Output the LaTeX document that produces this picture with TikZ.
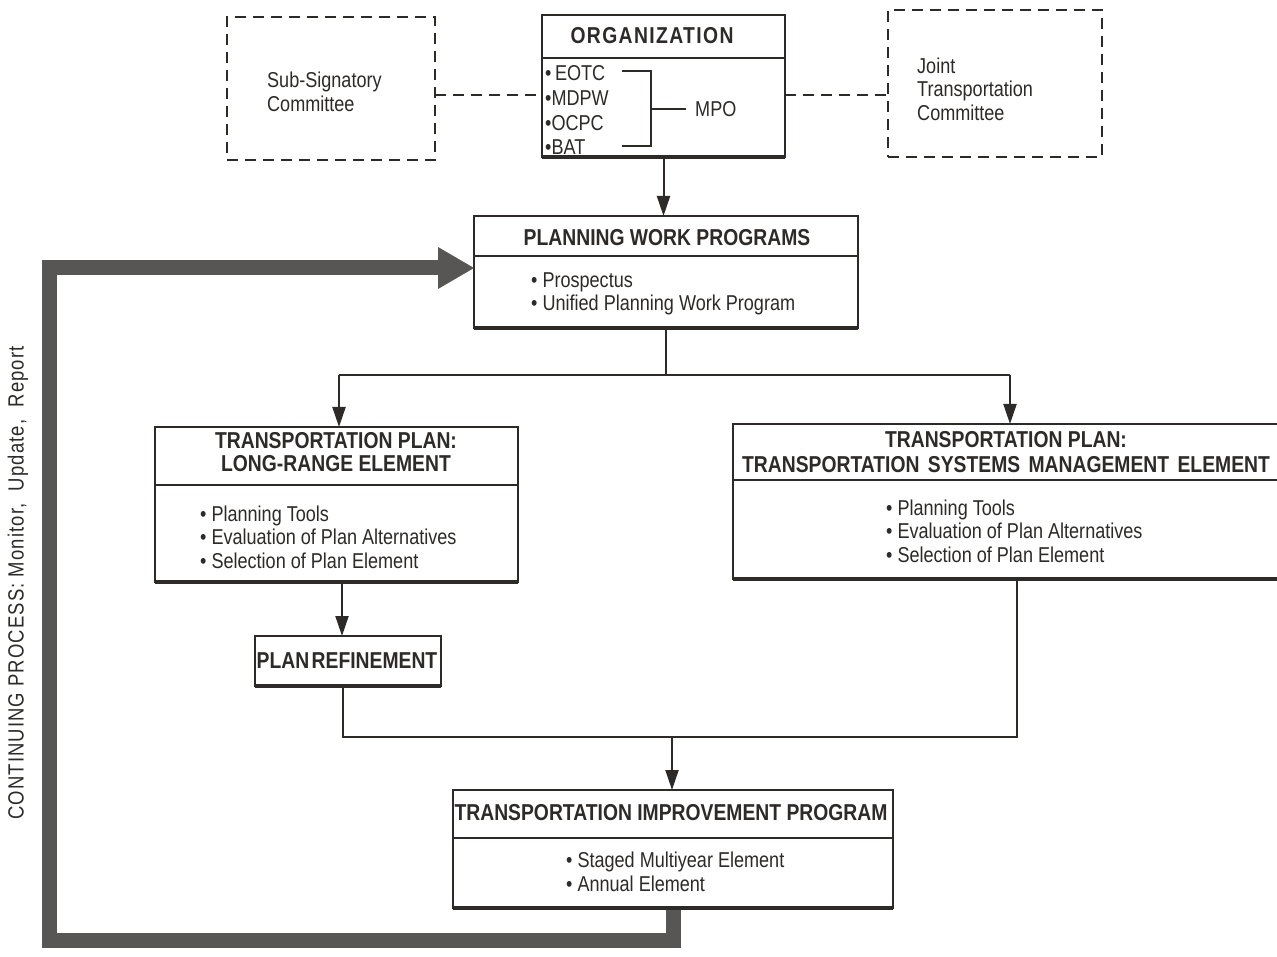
\documentclass[tikz,border=0pt]{standalone}
\usepackage{fontspec}
\setmainfont{Liberation Sans}[FakeStretch=0.84]
\usetikzlibrary{arrows.meta,calc}
\definecolor{ink}{RGB}{45,42,40}
\definecolor{fb}{RGB}{88,86,84}
\begin{document}
\begin{tikzpicture}[x=1pt,y=-1pt,
 box/.style={draw=ink,line width=2pt,fill=white,inner sep=0,outer sep=0,rectangle},
 dbox/.style={draw=ink,line width=2.2pt,dash pattern=on 11pt off 7pt,inner sep=0,outer sep=0,rectangle},
 ttl/.style={font=\bfseries\fontsize{23}{23.5}\selectfont,text=ink,align=center,inner sep=0},
 itm/.style={font=\fontsize{21.5}{23.5}\selectfont,text=ink,align=left,inner sep=0,anchor=west},
 conn/.style={draw=ink,line width=2pt},
 dconn/.style={draw=ink,line width=2pt,dash pattern=on 11pt off 7pt},
 arr/.style={conn,-{Triangle[length=20pt,width=13pt]}},
 feed/.style={draw=fb,line width=15pt,line join=miter},
 bot/.style={draw=ink,line width=3.2pt},
]
\useasboundingbox (0,0) rectangle (1277,957);
\clip (0,0) rectangle (1277,957);
\fill[white] (0,0) rectangle (1277,957);

% ---- top row
\node[dbox,minimum width=208,minimum height=143] (sub) at (331,88.5) {};
\node[itm] (subt) at (267,92) {Sub-Signatory\\Committee};

\node[box,minimum width=243,minimum height=142] (org) at (663.5,86) {};
\draw[bot] (org.south west) -- (org.south east);
\draw[conn] (org.west |- 0,58) -- (org.east |- 0,58);
\node[ttl] (orgt) at (652,36) {\addfontfeature{LetterSpace=6}ORGANIZATION};
\node[itm] (o1) at (545,73) {\textbullet\,EOTC};
\node[itm] (o2) at (545,98) {\textbullet MDPW};
\node[itm] (o3) at (545,123) {\textbullet OCPC};
\node[itm] (o4) at (545,147) {\textbullet BAT};
\coordinate (b1) at (622,71);
\coordinate (b2) at (651,71);
\coordinate (b3) at (651,146);
\coordinate (b4) at (622,146);
\coordinate (b5) at (651,109);
\node[itm] (mpo) at (695,109) {MPO};
\draw[conn] (b1) -- (b2) -- (b3) -- (b4);
\draw[conn] (b5) -- (686,109);

\node[dbox,minimum width=214,minimum height=147] (joint) at (995,83.5) {};
\node[itm] (jointt) at (917,89) {Joint\\Transportation\\Committee};

\draw[dconn] (sub.east |- 0,95) -- (org.west |- 0,95);
\draw[dconn] (org.east |- 0,95) -- (joint.west |- 0,95);

% ---- planning work programs
\node[box,minimum width=384,minimum height=112] (pwp) at (666,272) {};
\draw[bot] (pwp.south west) -- (pwp.south east);
\draw[conn] (pwp.west |- 0,256) -- (pwp.east |- 0,256);
\node[ttl] (pwpt) at (667,238) {PLANNING WORK PROGRAMS};
\node[itm] (pwpi) at (531,294) {\textbullet\ Prospectus\\\textbullet\ Unified Planning Work Program};

\draw[arr] (org.south) -- (org.south |- pwp.north);

% ---- branch
\coordinate (bl) at (339,375);
\coordinate (brr) at (1010,375);
\draw[conn] (pwp.south) -- (pwp.south |- bl);
\draw[conn] (bl) -- (brr);

% ---- long range
\node[box,minimum width=363,minimum height=155] (lr) at (336.5,504.5) {};
\draw[bot] (lr.south west) -- (lr.south east);
\draw[conn] (lr.west |- 0,485) -- (lr.east |- 0,485);
\node[ttl] (lrt) at (336,452) {TRANSPORTATION PLAN:\\LONG-RANGE ELEMENT};
\node[itm] (lri) at (200,537) {\textbullet\ Planning Tools\\\textbullet\ Evaluation of Plan Alternatives\\\textbullet\ Selection of Plan Element};

% ---- TSM
\node[box,minimum width=580,minimum height=155] (tsm) at (1023,501.5) {};
\draw[bot] (tsm.south west) -- (tsm.south east);
\draw[conn] (tsm.west |- 0,480) -- (tsm.east |- 0,480);
\node[ttl,font=\bfseries\fontsize{23}{25}\selectfont] (tsmt) at (1006,452) {TRANSPORTATION PLAN:\\TRANSPORTATION\hspace{3pt} SYSTEMS\hspace{3pt} MANAGEMENT\hspace{3pt} ELEMENT};
\node[itm] (tsmi) at (886,531) {\textbullet\ Planning Tools\\\textbullet\ Evaluation of Plan Alternatives\\\textbullet\ Selection of Plan Element};

\draw[arr] (bl) -- (bl |- lr.north);
\draw[arr] (brr) -- (brr |- tsm.north);

% ---- plan refinement
\node[box,minimum width=186,minimum height=50] (pr) at (348,661) {};
\draw[bot] (pr.south west) -- (pr.south east);
\node[ttl] (prt) at (347,661) {PLAN\hspace{-3pt} REFINEMENT};
\coordinate (lrs) at (342,582);
\draw[arr] (lrs) -- (lrs |- pr.north);

% ---- merge
\coordinate (ml) at (343,737);
\coordinate (mj) at (672,737);
\coordinate (mr) at (1017,737);
\draw[conn] (ml |- pr.south) -- (ml) -- (mr) -- (mr |- tsm.south);

% ---- TIP
\node[box,minimum width=440,minimum height=118] (tip) at (673,849) {};
\draw[conn] (tip.west |- 0,838) -- (tip.east |- 0,838);
\node[ttl] (tipt) at (671,813) {TRANSPORTATION IMPROVEMENT PROGRAM};
\node[itm] (tipi) at (566,872) {\textbullet\ Staged Multiyear Element\\\textbullet\ Annual Element};
\draw[arr] (mj) -- (mj |- tip.north);

% ---- feedback loop
\coordinate (f1) at (673,940);
\coordinate (f2) at (49,940);
\coordinate (f3) at (49,268);
\draw[feed] (tip.south) -- (f1) -- (f2) -- (f3) -- ($(pwp.west |- f3)+(-30,0)$);
\fill[fb] (pwp.west |- 0,268) -- ++(-36,-21) -- ++(0,42) -- cycle;
\draw[bot] (tip.south west) -- (tip.south east);

\node[rotate=90,font=\fontsize{22}{24}\selectfont\addfontfeature{LetterSpace=5},text=ink,inner sep=0] (cp) at (18,583) {CONTINUING PROCESS: Monitor,\ \ Update,\ \ Report};
\end{tikzpicture}
\end{document}
